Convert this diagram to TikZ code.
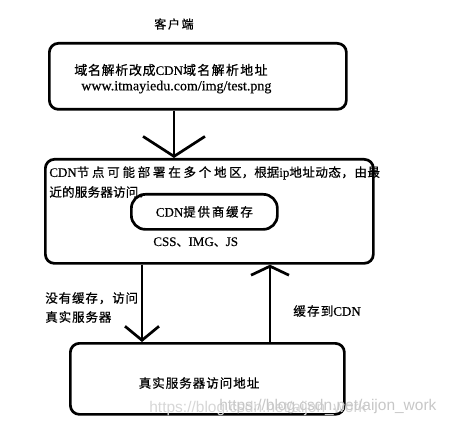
\documentclass[tikz,border=0pt]{standalone}
\usepackage{fontspec}
\setmainfont[FakeBold=0.4]{Liberation Serif}
\setsansfont{Liberation Sans}
\newfontfamily\zh[FakeBold=0.6]{Noto Sans CJK SC}
\usetikzlibrary{arrows.meta, positioning}
\newcommand\fsz[1]{\fontsize{#1}{#1}\selectfont}
\newcommand\zhsp[2]{{\zh\addfontfeature{LetterSpace=#1}#2}}

\begin{document}
\begin{tikzpicture}[x=1pt, y=-1pt, line width=2.7pt,
  box/.style={draw, rounded corners=9pt, inner sep=0pt, anchor=north west},
  txt/.style={anchor=west, inner sep=0pt, font=\fsz{12.5}}]
\useasboundingbox (0,0) rectangle (450,425);
% boxes
\node[box, minimum width=297pt, minimum height=66pt] (dns) at (48,42) {};
\node[box, minimum width=328pt, minimum height=104pt] (cdn) at (44,158) {};
\node[box, rounded corners=14pt, minimum width=146pt, minimum height=35pt, font=\fsz{12.5}] (cache) at (130,193)
  {{\fsz{13}CDN}\zhsp{14}{提供商缓存}};
\node[box, minimum width=274pt, minimum height=71pt] (real) at (69,342) {};
% texts
\node[font=\fsz{12}] (client) at (174,24) {\zhsp{14}{客户端}};
\node[txt, font=\fsz{13}] (dnsname) at (73,70) {\zhsp{5}{域名解析改成}CDN\zhsp{10}{域名解析地址}};
\node[txt, font=\fsz{14}] (url) at (80,87) {www.itmayiedu.com/img/test.png};
\node[txt] (cdnline1) at (48,173) {{\fsz{13}CDN}\zhsp{22}{节点可能部署在多个地区}{\zh ，根据}{\fsz{13}ip}\zhsp{4}{地址动态，由最}};
\node[txt] (cdnline2) at (48,192) {\zhsp{2}{近的服务器访问。}};
\node[txt, font=\fsz{13}] (css) at (152,242) {CSS{\zh\fsz{12}、}IMG{\zh\fsz{12}、}JS};
\node[txt, align=left, font=\fontsize{12.5}{19}\selectfont] (miss) at (44,307.5)
  {\zhsp{7}{没有缓存，访问}\\\zhsp{7}{真实服务器}};
\node[txt] (store) at (292,311) {\zhsp{10}{缓存到}{\fsz{13}CDN}};
\node[font=\fsz{12.5}] (realname) at (199,383) {\zhsp{8}{真实服务器访问地址}};
% arrows
\coordinate (dn) at (142,300);
\coordinate (up) at (270,300);
\draw[-{Straight Barb[length=20pt, width=62pt]}] (dns.south -| client) -- (cdn.north -| client);
\draw[-{Straight Barb[length=14pt, width=34pt]}] (cdn.south -| dn) -- (real.north -| dn);
\draw[-{Straight Barb[length=9pt, width=38pt]}] (real.north -| up) -- (cdn.south -| up);
% watermark
\node[txt, text=black!16, font=\sffamily\fsz{15.5}] (wm1) at (148,408) {https://blog.csdn.net/aijon\_work};
\node[txt, text=black!22, font=\sffamily\fsz{15.5}] (wm2) at (218,406) {https://blog.csdn.net/aijon\_work};
\end{tikzpicture}
\end{document}
